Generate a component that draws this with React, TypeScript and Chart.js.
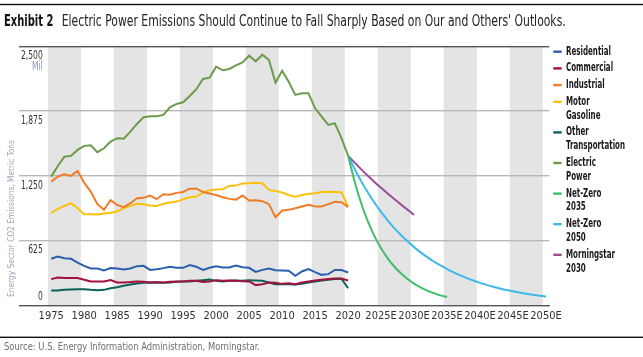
import React, { useEffect, useRef } from 'react';
import { Chart, registerables } from 'chart.js';

Chart.register(...registerables);

const FONT = "'Liberation Sans Narrow', 'Arial Narrow', 'DejaVu Sans Condensed', Roboto, sans-serif";

const histYears = [
  1975, 1976, 1977, 1978, 1979, 1980, 1981, 1982, 1983, 1984,
  1985, 1986, 1987, 1988, 1989, 1990, 1991, 1992, 1993, 1994,
  1995, 1996, 1997, 1998, 1999, 2000, 2001, 2002, 2003, 2004,
  2005, 2006, 2007, 2008, 2009, 2010, 2011, 2012, 2013, 2014,
  2015, 2016, 2017, 2018, 2019, 2020,
];
const forecastYears = [
  2021, 2022, 2023, 2024, 2025, 2026, 2027, 2028, 2029, 2030,
  2031, 2032, 2033, 2034, 2035, 2036, 2037, 2038, 2039, 2040,
  2041, 2042, 2043, 2044, 2045, 2046, 2047, 2048, 2049, 2050,
];

// Million metric tons, 1975-2020
const residential = [
  451, 473, 457, 451, 415, 383, 357, 357, 338, 361,
  357, 348, 357, 380, 383, 344, 351, 361, 374, 364,
  364, 390, 374, 344, 364, 380, 367, 367, 386, 370,
  364, 325, 344, 357, 341, 338, 335, 287, 329, 351,
  322, 296, 303, 343, 343, 319,
];
const commercial = [
  255, 271, 265, 265, 265, 248, 232, 232, 232, 245,
  222, 222, 226, 232, 229, 222, 226, 222, 229, 232,
  232, 238, 238, 226, 232, 245, 238, 242, 238, 235,
  232, 197, 206, 222, 219, 209, 216, 206, 222, 232,
  242, 248, 255, 261, 261, 242,
];
const industrial = [
  1197, 1245, 1268, 1252, 1300, 1187, 1100, 979, 924, 1017,
  972, 950, 988, 1037, 1040, 1062, 1027, 1075, 1071, 1088,
  1097, 1129, 1129, 1097, 1081, 1068, 1046, 1030, 1023, 1062,
  1014, 1017, 1008, 979, 853, 917, 924, 940, 956, 972,
  956, 956, 979, 1001, 998, 950,
];
const motorGasoline = [
  892, 933, 962, 988, 940, 882, 882, 879, 888, 895,
  908, 940, 962, 982, 979, 966, 962, 982, 995, 1004,
  1027, 1046, 1052, 1091, 1114, 1120, 1123, 1155, 1158, 1178,
  1181, 1185, 1181, 1117, 1107, 1091, 1068, 1052, 1068, 1078,
  1084, 1097, 1100, 1097, 1094, 955,
];
const otherTransportation = [
  145, 145, 151, 155, 158, 158, 151, 148, 151, 167,
  177, 190, 203, 213, 219, 222, 219, 219, 222, 229,
  232, 232, 238, 245, 251, 238, 232, 238, 242, 238,
  245, 242, 238, 222, 206, 206, 206, 203, 209, 222,
  232, 242, 248, 255, 258, 167,
];
const electricPower = [
  1245, 1348, 1438, 1445, 1503, 1542, 1548, 1481, 1519, 1583,
  1616, 1612, 1680, 1754, 1818, 1828, 1828, 1841, 1915, 1947,
  1963, 2024, 2089, 2188, 2201, 2307, 2272, 2285, 2320, 2349,
  2413, 2359, 2423, 2372, 2153, 2268, 2162, 2034, 2050, 2050,
  1905, 1824, 1744, 1760, 1616, 1448,
];
// Projections, starting at 2020
const netZero2035 = [
  1448, 1195, 985, 812, 670, 553, 456, 377, 311, 256,
  212, 175, 144, 119, 98, 81,
];
const netZero2050 = [
  1448, 1318, 1199, 1091, 993, 904, 822, 748, 681, 620,
  564, 513, 467, 425, 387, 352, 320, 291, 265, 241,
  219, 199, 181, 165, 150, 137, 125, 114, 104, 95, 87,
];
const morningstar2030 = [
  1448, 1380, 1315, 1253, 1194, 1137, 1082, 1029, 977, 926, 875,
];

const yTicks = [0, 625, 1250, 1875, 2500];
const yTickLabels = ['0', '625', '1,250', '1,875', '2,500'];
const yUnit = 'Mil';
const yTitle = 'Energy Sector CO2 Emissions, Metric Tons';
const titleBold = 'Exhibit 2';
const titleText = "Electric Power Emissions Should Continue to Fall Sharply Based on Our and Others' Outlooks.";
const sourceText = 'Source: U.S. Energy Information Administration, Morningstar.';

const seriesNames = [
  'Residential', 'Commercial', 'Industrial', 'Motor Gasoline', 'Other Transportation',
  'Electric Power', 'Net-Zero 2035', 'Net-Zero 2050', 'Morningstar 2030',
];
const seriesColors = [
  '#2b5fad', '#a3123f', '#f07c28', '#f8c20d', '#0b5f5a',
  '#6d9b4c', '#3fbf6b', '#3db9ea', '#9b4f96',
];

const labels = [...histYears.map(String), ...forecastYears.map((y) => `${y}E`)];
const startIdx2020 = histYears.length - 1;

function place(vals: number[], start: number) {
  return labels.map((_, i) => (i >= start && i < start + vals.length ? vals[i - start] : null));
}

function drawText(
  ctx: CanvasRenderingContext2D, s: string, x: number, y: number, font: string, color: string,
  align: CanvasTextAlign = 'left', baseline: CanvasTextBaseline = 'middle', sx = 1,
) {
  ctx.save();
  ctx.font = font;
  ctx.fillStyle = color;
  ctx.textAlign = align;
  ctx.textBaseline = baseline;
  ctx.translate(x, y);
  ctx.scale(sx, 1);
  ctx.fillText(s, 0, 0);
  ctx.restore();
}

function fitScale(ctx: CanvasRenderingContext2D, s: string, font: string, target: number) {
  ctx.save();
  ctx.font = font;
  const w = ctx.measureText(s).width;
  ctx.restore();
  return w > 0 ? target / w : 1;
}

const decor = {
  id: 'decor',
  beforeDraw(chart: any) {
    const { ctx, chartArea: a, scales } = chart;
    const x = scales.x;
    const y = scales.y;
    ctx.save();
    ctx.fillStyle = '#ffffff';
    ctx.fillRect(0, 0, chart.width, chart.height);
    const cw = (a.right - a.left) / labels.length;
    ctx.fillStyle = '#e4e4e4';
    for (let i = 0; i + 5 <= labels.length; i += 10) {
      const x0 = x.getPixelForValue(i) - cw / 2;
      ctx.fillRect(x0, a.top, cw * 5, a.bottom - a.top);
    }
    // horizontal grid lines (value-based, through the y scale)
    yTicks.forEach((v) => {
      const py = Math.round(y.getPixelForValue(v));
      ctx.fillStyle = v === 0 || v === 2500 ? '#555555' : '#b8b8b8';
      ctx.fillRect(19, py - 1, a.right - 19, 1.4);
    });
    ctx.restore();
  },
  afterDraw(chart: any) {
    const { ctx, scales } = chart;
    const y = scales.y;
    const W = chart.width;

    // rules
    ctx.save();
    ctx.fillStyle = '#111';
    ctx.fillRect(0, 3.8, W, 1.4);
    ctx.fillRect(0, 336.6, W, 1.4);
    ctx.restore();

    // title
    const fb = `bold 15px ${FONT}`;
    const fr = `15px ${FONT}`;
    drawText(ctx, titleBold, 4, 26, fb, '#111', 'left', 'alphabetic', fitScale(ctx, titleBold, fb, 49.3));
    drawText(ctx, titleText, 61.7, 26, fr, '#222', 'left', 'alphabetic', fitScale(ctx, titleText, fr, 504));

    // source
    const fs = `10.5px ${FONT}`;
    drawText(ctx, sourceText, 4, 350, fs, '#707070', 'left', 'alphabetic', fitScale(ctx, sourceText, fs, 256));

    // y tick labels
    const fy = `11.5px ${FONT}`;
    const syf = fitScale(ctx, '2,500', fy, 21.7);
    yTicks.forEach((v, i) => {
      const py = y.getPixelForValue(v);
      const cy = v === 0 ? py - 8 : py + 9.7;
      drawText(ctx, yTickLabels[i], 42.7, cy, fy, '#333', 'right', 'middle', syf);
      if (i === yTicks.length - 1) {
        drawText(ctx, yUnit, 42.7, cy + 11, fy, '#8596b5', 'right', 'middle', syf);
      }
    });

    // y title
    const ft = `9.5px ${FONT}`;
    ctx.save();
    ctx.translate(12, 297);
    ctx.rotate(-Math.PI / 2);
    drawText(ctx, yTitle, 0, 0, ft, '#9ea8b8', 'left', 'middle', fitScale(ctx, yTitle, ft, 157));
    ctx.restore();

    // legend
    const fl = `bold 11.5px ${FONT}`;
    const sl = fitScale(ctx, 'Transportation', fl, 59);
    let ly = 51.7;
    seriesNames.forEach((name, i) => {
      const lines = name.split(' ');
      ctx.save();
      ctx.strokeStyle = seriesColors[i];
      ctx.lineWidth = 2.4;
      ctx.beginPath();
      ctx.moveTo(553.3, ly);
      ctx.lineTo(561.7, ly);
      ctx.stroke();
      ctx.restore();
      lines.forEach((ln, j) => {
        drawText(ctx, ln, 566, ly + j * 13.9, fl, '#1a1a1a', 'left', 'middle', sl);
      });
      ly += (lines.length - 1) * 13.9 + 16.7;
    });
  },
};

export default function App() {
  const ref = useRef<HTMLCanvasElement>(null);
  useEffect(() => {
    const canvas = ref.current;
    if (!canvas) return;
    document.body.style.margin = '0';
    const hist = [residential, commercial, industrial, motorGasoline, otherTransportation, electricPower];
    const proj = [netZero2035, netZero2050, morningstar2030];
    const datasets: any[] = [];
    hist.forEach((vals, i) => {
      datasets.push({
        label: seriesNames[i], data: place(vals, 0), borderColor: seriesColors[i],
        backgroundColor: seriesColors[i], borderWidth: 2, pointRadius: 0, tension: 0, fill: false,
      });
    });
    proj.forEach((vals, k) => {
      const i = hist.length + k;
      datasets.push({
        label: seriesNames[i], data: place(vals, startIdx2020), borderColor: seriesColors[i],
        backgroundColor: seriesColors[i], borderWidth: 2, pointRadius: 0, tension: 0.3, fill: false,
      });
    });
    const chart = new Chart(canvas, {
      type: 'line',
      data: { labels, datasets },
      options: {
        responsive: false,
        animation: false,
        devicePixelRatio: 1,
        layout: { padding: { top: 46.7, right: 93.7, left: 0, bottom: 0 } },
        plugins: { legend: { display: false }, tooltip: { enabled: false }, title: { display: false } },
        scales: {
          x: {
            type: 'category',
            offset: true,
            grid: { display: false, drawTicks: false },
            border: { display: true, color: '#555', width: 1 },
            ticks: {
              autoSkip: false, maxRotation: 0, minRotation: 0, padding: 4,
              color: '#333', font: { family: FONT, size: 11 },
              callback: (_v: any, i: number) => (i % 5 === 0 ? labels[i] : null),
            },
            afterFit: (s: any) => { s.height = 51.5; },
          },
          y: {
            type: 'linear',
            min: 0, max: 2500,
            ticks: { stepSize: 625, display: false },
            border: { display: false },
            grid: { display: false },
            afterFit: (s: any) => { s.width = 47.9; },
          },
        },
      } as any,
      plugins: [decor],
    });
    return () => chart.destroy();
  }, []);
  return (
    <div style={{ position: 'fixed', left: 0, top: 0, width: 643, height: 357, background: '#fff' }}>
      <canvas ref={ref} width={643} height={357} style={{ display: 'block', width: 643, height: 357 }} />
    </div>
  );
}
